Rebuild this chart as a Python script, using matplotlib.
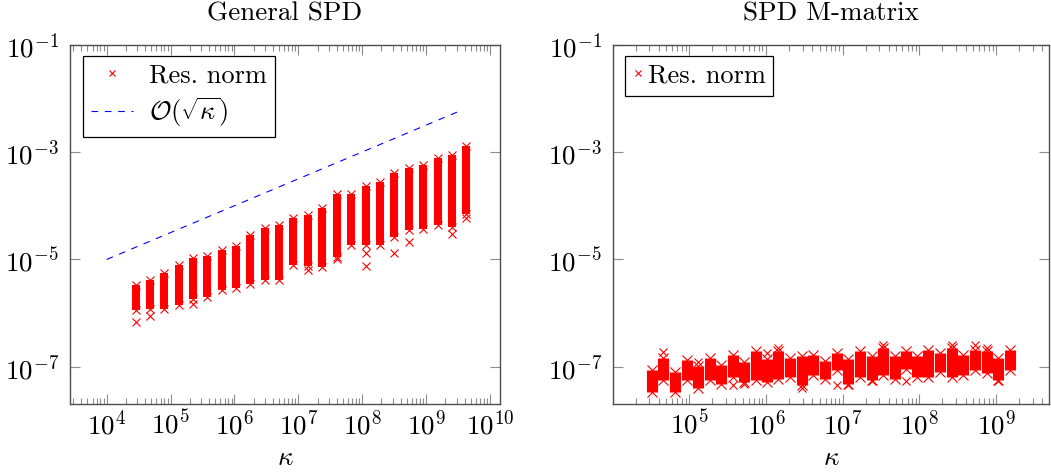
import numpy as np
import matplotlib
matplotlib.use('Agg')
import matplotlib.pyplot as plt
import matplotlib.ticker as mticker

plt.rcParams['mathtext.fontset'] = 'cm'
plt.rcParams['font.family'] = ['cmr10', 'DejaVu Serif']
plt.rcParams['axes.formatter.use_mathtext'] = True

# ── DATA (log10 values) ──────────────────────────────────────────────────────

# General SPD: one column of samples per kappa
left_kappa_exp = [4.454, 4.678, 4.897, 5.127, 5.351, 5.570, 5.800, 6.023, 6.243, 6.477, 6.696, 6.923,
                  7.150, 7.369, 7.604, 7.823, 8.058, 8.277, 8.496, 8.731, 8.950, 9.185, 9.404, 9.623]
left_res_hi = [-5.47, -5.38, -5.25, -5.10, -4.97, -4.94, -4.82, -4.75, -4.54, -4.41, -4.35, -4.23,
               -4.17, -4.04, -3.78, -3.79, -3.64, -3.55, -3.39, -3.30, -3.24, -3.11, -3.05, -2.88]
left_res_lo = [-5.95, -5.92, -5.92, -5.85, -5.73, -5.70, -5.57, -5.54, -5.45, -5.39, -5.39, -5.11,
               -5.12, -5.14, -4.95, -4.74, -4.74, -4.74, -4.58, -4.46, -4.43, -4.36, -4.40, -4.15]
left_out_kappa_exp = [4.454, 4.678, 5.351, 7.150, 7.604, 8.058, 8.058, 8.496, 8.731, 9.404, 9.623]
left_out_res_exp = [-6.16, -6.06, -5.83, -5.20, -4.99, -4.88, -5.12, -4.88, -4.67, -4.52, -4.22]

# reference line O(sqrt(kappa))
line_kappa = [1e4, 3.6e9]
line_res = [1e-5, 6.0e-3]

# SPD M-matrix
right_kappa_exp = [4.510, 4.657, 4.814, 4.966, 5.113, 5.270, 5.413, 5.566, 5.713, 5.867, 6.009,
                   6.156, 6.313, 6.465, 6.613, 6.769, 6.922, 7.069, 7.225, 7.378, 7.525, 7.681,
                   7.819, 7.965, 8.112, 8.269, 8.421, 8.568, 8.725, 8.877, 9.024, 9.181]
right_res_hi = [-7.05, -6.83, -7.09, -6.87, -6.98, -6.83, -6.96, -6.77, -6.91, -6.70, -6.85,
                -6.70, -6.83, -6.80, -6.77, -6.89, -6.74, -6.86, -6.70, -6.80, -6.65, -6.80,
                -6.70, -6.80, -6.68, -6.74, -6.65, -6.77, -6.68, -6.70, -6.83, -6.68]
right_res_lo = [-7.47, -7.24, -7.47, -7.24, -7.40, -7.24, -7.31, -7.19, -7.28, -7.24, -7.28,
                -7.22, -7.19, -7.33, -7.15, -7.22, -7.06, -7.31, -7.19, -7.24, -7.15, -7.22,
                -7.03, -7.19, -7.19, -7.09, -7.19, -7.15, -7.06, -7.12, -7.24, -7.06]
right_out_kappa_exp = [4.657, 5.113, 5.566, 5.713, 6.009, 6.156, 6.465, 6.922, 7.069, 7.378,
                       7.525, 7.819, 8.421, 8.725, 8.877, 9.024]
right_out_res_exp = [-6.72, -6.90, -7.33, -7.31, -6.74, -6.65, -7.39, -7.33, -7.33, -7.27,
                     -6.59, -7.27, -6.59, -6.59, -6.65, -7.27]

RED = '#ff0000'
BLUE = '#0000ff'
FS = 19.5
LFS = 19


def pow_label(v, pos):
    e = int(round(np.log10(v)))
    return r'$10^{%d}$' % e


def draw_columns(ax, k_exp, hi, lo, out_k, out_r, band_lw, ms):
    k = 10.0 ** np.array(k_exp)
    h = 10.0 ** np.array(hi)
    l = 10.0 ** np.array(lo)
    ax.vlines(k, l, h, color=RED, lw=band_lw, capstyle='butt', zorder=2)
    ax.plot(k, h, 'x', color=RED, ms=ms, mew=0.8, zorder=3)
    ax.plot(k, l, 'x', color=RED, ms=ms, mew=0.8, zorder=3)
    ax.plot(10.0 ** np.array(out_k), 10.0 ** np.array(out_r), 'x', color=RED, ms=6, mew=0.8, zorder=3)


def style_axis(ax, xlim, xmajor):
    ax.set_xscale('log')
    ax.set_yscale('log')
    ax.set_xlim(*xlim)
    ax.set_ylim(10 ** -7.69, 1e-1)
    ax.xaxis.set_major_locator(mticker.FixedLocator(xmajor))
    ax.xaxis.set_minor_locator(mticker.LogLocator(base=10, subs=np.arange(2, 10), numticks=20))
    ax.xaxis.set_minor_formatter(mticker.NullFormatter())
    ax.yaxis.set_major_locator(mticker.FixedLocator([1e-1, 1e-3, 1e-5, 1e-7]))
    ax.yaxis.set_minor_locator(mticker.NullLocator())
    ax.xaxis.set_major_formatter(mticker.FuncFormatter(pow_label))
    ax.yaxis.set_major_formatter(mticker.FuncFormatter(pow_label))
    ax.tick_params(which='both', direction='in', top=True, right=True, color='#8c8c8c', width=0.8)
    ax.tick_params(which='major', length=7, labelsize=FS)
    ax.tick_params(which='minor', length=4.3)
    ax.tick_params(axis='x', pad=4)
    ax.tick_params(axis='y', pad=8)
    for s in ax.spines.values():
        s.set_color('#4d4d4d')
        s.set_linewidth(1.0)
    ax.set_xlabel(r'$\kappa$', fontsize=FS, labelpad=5)


fig = plt.figure(figsize=(10.51, 4.76), dpi=100)
ax1 = fig.add_axes([70 / 1051, 72 / 476, 430 / 1051, 359.5 / 476])
ax2 = fig.add_axes([613 / 1051, 72 / 476, 436 / 1051, 359.5 / 476])

# left panel
draw_columns(ax1, left_kappa_exp, left_res_hi, left_res_lo, left_out_kappa_exp, left_out_res_exp, 5.8, 6)
ax1.plot([], [], 'x', color=RED, ms=5, mew=0.8, label='Res. norm')
ax1.plot(line_kappa, line_res, color=BLUE, lw=0.8, dashes=(6, 6), label=r'$\mathcal{O}(\sqrt{\kappa})$')
style_axis(ax1, (10 ** 3.426, 10 ** 10.156), [1e4, 1e5, 1e6, 1e7, 1e8, 1e9, 1e10])
ax1.set_title('General SPD', fontsize=FS, pad=17)
leg = ax1.legend(loc='upper left', bbox_to_anchor=(0.030, 0.968), borderaxespad=0, fontsize=LFS,
                 fancybox=False, edgecolor='black', framealpha=1, handlelength=1.6,
                 handletextpad=0.6, borderpad=0.3, labelspacing=0.3)
leg.get_frame().set_linewidth(0.9)

# right panel
draw_columns(ax2, right_kappa_exp, right_res_hi, right_res_lo, right_out_kappa_exp, right_out_res_exp, 8.0, 7.5)
ax2.plot([], [], 'x', color=RED, ms=5, mew=0.8, label='Res. norm')
style_axis(ax2, (10 ** 4.005, 10 ** 9.69), [1e5, 1e6, 1e7, 1e8, 1e9])
ax2.set_title('SPD M-matrix', fontsize=FS, pad=17)
leg2 = ax2.legend(loc='upper left', bbox_to_anchor=(0.028, 0.968), borderaxespad=0, fontsize=LFS,
                  fancybox=False, edgecolor='black', framealpha=1, handlelength=0.4,
                  handletextpad=0.15, borderpad=0.3)
leg2.get_frame().set_linewidth(0.9)

fig.savefig('out.png', dpi=100)
